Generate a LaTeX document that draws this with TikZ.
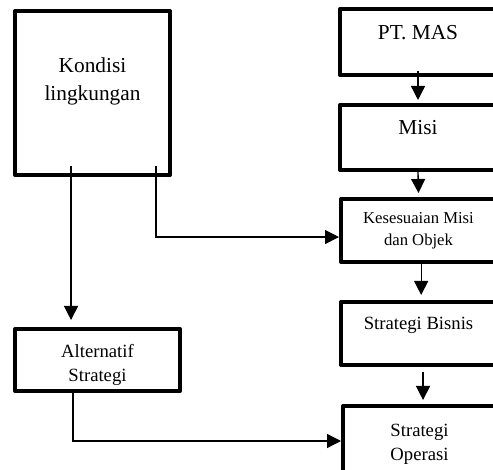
\documentclass[tikz,border=0pt]{standalone}
\usepackage{fontspec}
\setmainfont{Liberation Serif}
\usetikzlibrary{arrows.meta}
\tikzset{
    flowbox/.style={draw, line width=3pt, line join=round, rectangle, inner sep=0pt},
    flowarrow/.style={line width=1pt, -{Triangle[width=10.5pt,length=10.5pt]}},
    bigtext/.style={font=\fontsize{16pt}{21pt}\selectfont, align=center},
    midtext/.style={font=\fontsize{14pt}{18pt}\selectfont, align=center},
    smalltext/.style={font=\fontsize{12.5pt}{16.5pt}\selectfont, align=center},
}

\begin{document}
\begin{tikzpicture}[x=0.75pt, y=-0.75pt]
        \clip (0,0) rectangle (493,470);
        % kotak
        \node[flowbox, minimum width=116.25pt, minimum height=123pt] (kondisi) at (92.5,93) {};
        \node[flowbox, minimum width=123.75pt, minimum height=46.5pt] (alternatif) at (97.5,360) {};
        \node[flowbox, minimum width=117pt, minimum height=49.5pt] (ptmas) at (418,42) {};
        \node[flowbox, minimum width=117pt, minimum height=48.75pt] (misi) at (418,137.5) {};
        \node[flowbox, minimum width=116.25pt, minimum height=47.25pt] (sesuai) at (418.5,230.5) {};
        \node[flowbox, minimum width=116.25pt, minimum height=47.25pt] (bisnis) at (418.5,333.5) {};
        \node[flowbox, minimum width=114.75pt, minimum height=49.5pt] (operasi) at (419.5,439) {};
        % teks
        \node[bigtext, yshift=8.6pt] (kondisitext) at (kondisi) {Kondisi\\lingkungan};
        \node[midtext, yshift=-3.5pt] (alternatiftext) at (alternatif) {Alternatif\\Strategi};
        \node[bigtext, yshift=6.75pt] (ptmastext) at (ptmas) {PT. MAS};
        \node[bigtext, yshift=7.1pt] (misitext) at (misi) {Misi};
        \node[smalltext] (sesuaitext) at (sesuai) {Kesesuaian Misi\\dan Objek};
        \node[midtext, yshift=6pt] (bisnistext) at (bisnis) {Strategi Bisnis};
        \node[midtext, yshift=-3.75pt] (operasitext) at (operasi) {Strategi\\Operasi};
        % panah
        \draw[flowarrow] ([yshift=4.5pt]ptmas.south) -- ([yshift=2.25pt]misi.north);
        \draw[flowarrow] (misi.south) -- ([yshift=3pt]sesuai.north);
        \draw[flowarrow] ([xshift=2pt]sesuai.south) -- ([xshift=2pt,yshift=3.75pt]bisnis.north);
        \draw[flowarrow] ([xshift=3.4pt,yshift=-3.75pt]bisnis.south) coordinate (b1) -- ([yshift=3pt]b1 |- operasi.north);
        \draw[flowarrow] ([xshift=-16.1pt,yshift=8.25pt]kondisi.south) coordinate (k1) -- ([yshift=5.25pt]k1 |- alternatif.north);
        \draw[flowarrow] ([xshift=47.6pt,yshift=8.25pt]kondisi.south) |- ([yshift=-4.9pt]sesuai.west);
        \draw[flowarrow] ([xshift=-18.4pt]alternatif.south) |- ([yshift=-1.5pt]operasi.west);
\end{tikzpicture}
\end{document}
